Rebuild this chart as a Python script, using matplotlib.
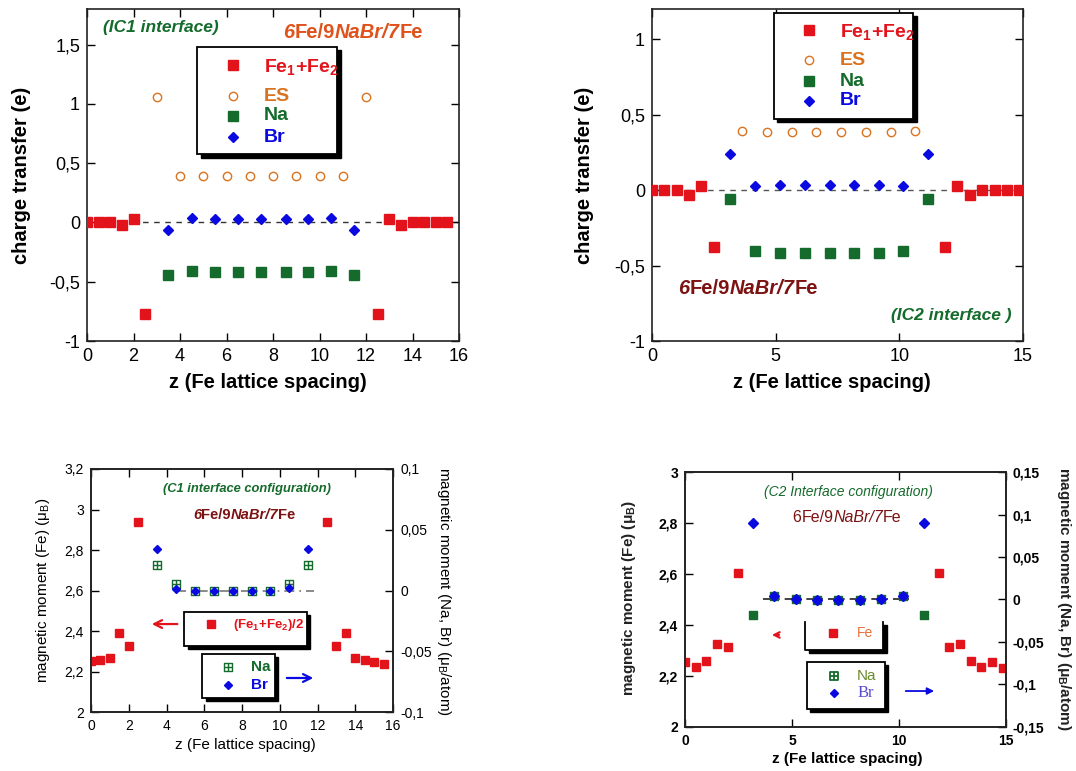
import matplotlib
matplotlib.use("Agg")
import matplotlib.pyplot as plt
from matplotlib.patches import Rectangle
from matplotlib.path import Path
from matplotlib.transforms import offset_copy
from matplotlib.ticker import MultipleLocator, FuncFormatter

plt.rcParams['font.family'] = ['Liberation Sans', 'DejaVu Sans']
plt.rcParams['mathtext.fontset'] = 'custom'
plt.rcParams['mathtext.rm'] = 'Liberation Sans'
plt.rcParams['mathtext.it'] = 'Liberation Sans:italic'
plt.rcParams['mathtext.bf'] = 'Liberation Sans:bold'

# --- charge transfer, IC1 interface ---
ic1_fe_z = [0, 0.5, 1, 1.5, 2, 2.5, 12.5, 13, 13.5, 14, 14.5, 15, 15.5]
ic1_fe_q = [0.0, 0.0, 0.0, -0.02, 0.03, -0.77, -0.77, 0.03, -0.02, 0.0, 0.0, 0.0, 0.0]
ic1_es_z = [3, 4, 5, 6, 7, 8, 9, 10, 11, 12]
ic1_es_q = [1.06, 0.39, 0.39, 0.39, 0.39, 0.39, 0.39, 0.39, 0.39, 1.06]
ic1_ion_z = [3.5, 4.5, 5.5, 6.5, 7.5, 8.55, 9.5, 10.5, 11.5]
ic1_na_q = [-0.44, -0.41, -0.42, -0.42, -0.42, -0.42, -0.42, -0.41, -0.44]
ic1_br_q = [-0.065, 0.035, 0.03, 0.03, 0.03, 0.03, 0.03, 0.035, -0.065]

# --- charge transfer, IC2 interface ---
ic2_fe_z = [0, 0.5, 1, 1.5, 2, 2.5, 11.85, 12.35, 12.85, 13.35, 13.85, 14.35, 14.85]
ic2_fe_q = [0.0, 0.0, 0.003, -0.035, 0.026, -0.377, -0.377, 0.026, -0.035, 0.003, 0.0, 0.0, 0.0]
ic2_es_z = [3.65, 4.65, 5.65, 6.65, 7.65, 8.65, 9.65, 10.65]
ic2_es_q = [0.394, 0.385, 0.385, 0.385, 0.385, 0.385, 0.385, 0.394]
ic2_ion_z = [3.17, 4.18, 5.17, 6.18, 7.18, 8.18, 9.18, 10.17, 11.17]
ic2_na_q = [-0.06, -0.405, -0.414, -0.414, -0.414, -0.414, -0.414, -0.405, -0.06]
ic2_br_q = [0.242, 0.024, 0.033, 0.033, 0.033, 0.033, 0.033, 0.024, 0.242]

# --- magnetic moments, C1 configuration ---
c1_fe_z = [0, 0.5, 1, 1.5, 2, 2.5, 12.5, 13, 13.5, 14, 14.5, 15, 15.5]
c1_fe_m = [2.25, 2.255, 2.266, 2.388, 2.324, 2.94, 2.94, 2.324, 2.388, 2.266, 2.255, 2.248, 2.237]
c1_ion_z = [3.5, 4.5, 5.5, 6.5, 7.5, 8.55, 9.5, 10.5, 11.5]
c1_na_m = [0.0214, 0.005, 0.0, 0.0, 0.0, 0.0, 0.0, 0.005, 0.0214]
c1_br_m = [0.0338, 0.0016, 0.0, 0.0, 0.0, 0.0, 0.0, 0.002, 0.0338]
c1_zero_span = [4.5, 11.8]

# --- magnetic moments, C2 configuration ---
c2_fe_z = [0, 0.5, 1, 1.5, 2, 2.5, 11.85, 12.35, 12.85, 13.35, 13.85, 14.35, 14.85]
c2_fe_m = [2.253, 2.236, 2.258, 2.324, 2.315, 2.605, 2.605, 2.315, 2.324, 2.258, 2.236, 2.253, 2.23]
c2_ion_z = [3.2, 4.17, 5.18, 6.18, 7.16, 8.17, 9.17, 10.17, 11.15]
c2_na_m = [-0.018, 0.004, 0.0, -0.001, -0.001, -0.001, 0.0, 0.004, -0.018]
c2_br_m = [0.09, 0.004, 0.0, -0.001, -0.001, -0.001, 0.0, 0.004, 0.09]
c2_zero_span = [3.66, 10.45]

RED = '#e3131b'
ORANGE = '#d9731f'
GREEN = '#146b2b'
BLUE = '#0a0ae0'
DARKRED = '#7c1212'
TITLE_ORANGE = '#e0521c'

boxplus = Path([(-1, -1), (1, -1), (1, 1), (-1, 1), (-1, -1), (0, -1), (0, 1), (-1, 0), (1, 0)],
               [Path.MOVETO, Path.LINETO, Path.LINETO, Path.LINETO, Path.CLOSEPOLY,
                Path.MOVETO, Path.LINETO, Path.MOVETO, Path.LINETO])

comma = FuncFormatter(lambda v, _: f"{v:g}".replace('.', ','))


def style_axes(ax, size, bold=False):
    ax.tick_params(direction='in', length=6, width=1, labelsize=size, pad=5)
    for s in ax.spines.values():
        s.set_linewidth(1.2)
        s.set_color('#222222')
    if bold:
        for lab in ax.get_xticklabels() + ax.get_yticklabels():
            lab.set_fontweight('bold')


def rich_text(ax, x, y, parts, size, color, weight='bold'):
    t = ax.text(x, y, parts[0][0], transform=ax.transAxes, fontsize=size, color=color,
                fontweight=weight, fontstyle=parts[0][1], ha='left', va='center', zorder=6)
    for s, style in parts[1:]:
        t = ax.annotate(s, xy=(1, 0), xycoords=t, ha='left', va='bottom', fontsize=size,
                        color=color, fontweight=weight, fontstyle=style, zorder=6)


def shadow_box(ax, x0, y0, x1, y1, top=True):
    fig = ax.figure
    sh = offset_copy(ax.transAxes, fig=fig, x=3.5, y=-3.5, units='dots')
    ax.add_patch(Rectangle((x0, y0), x1 - x0, y1 - y0, transform=sh, facecolor='black',
                           edgecolor='black', lw=1, zorder=4, clip_on=False))
    ax.add_patch(Rectangle((x0, y0), x1 - x0, y1 - y0, transform=ax.transAxes,
                           facecolor='white', edgecolor='black' if top else 'none',
                           lw=1.3, zorder=4.5, clip_on=False))
    if not top:
        ax.plot([x0, x0, x1, x1], [y1, y0, y0, y1], transform=ax.transAxes, color='black',
                lw=1.3, zorder=4.6, clip_on=False)


def key(ax, x, y, **kw):
    ax.plot([x], [y], transform=ax.transAxes, zorder=5, clip_on=False, ls='none', **kw)


fig = plt.figure(figsize=(10.76, 7.71), dpi=100)

# ---------- top left: IC1 charge transfer ----------
ax1 = fig.add_axes([0.0809, 0.5577, 0.3457, 0.4306])
ax1.axhline(0, color='#333333', ls=(0, (4, 4)), lw=1, zorder=1)
ax1.plot(ic1_fe_z, ic1_fe_q, 's', color=RED, ms=6.5, zorder=3)
ax1.plot(ic1_es_z, ic1_es_q, 'o', mfc='none', mec=ORANGE, ms=6, mew=1, zorder=3)
ax1.plot(ic1_ion_z, ic1_na_q, 's', color=GREEN, ms=6.5, zorder=3)
ax1.plot(ic1_ion_z, ic1_br_q, 'D', color=BLUE, ms=5.5, zorder=3)
ax1.set_xlim(0, 16)
ax1.set_ylim(-1, 1.8)
ax1.xaxis.set_major_locator(MultipleLocator(2))
ax1.yaxis.set_major_locator(MultipleLocator(0.5))
ax1.yaxis.set_major_formatter(comma)
ax1.tick_params(top=True, right=True)
style_axes(ax1, 13)
ax1.set_ylabel('charge transfer (e)', fontsize=14.5, fontweight='bold', va='center')
ax1.yaxis.set_label_coords(-0.176, 0.5)
ax1.set_xlabel('z (Fe lattice spacing)', fontsize=14.5, fontweight='bold')
ax1.xaxis.set_label_coords(0.485, -0.095)
ax1.text(0.043, 0.943, '(IC1 interface)', transform=ax1.transAxes, fontsize=12.5,
         fontweight='bold', fontstyle='italic', color=GREEN, va='center')
rich_text(ax1, 0.527, 0.928, [('6', 'italic'), ('Fe/9', 'normal'), ('NaBr/7', 'italic'),
                               ('Fe', 'normal')], 14.5, TITLE_ORANGE)
shadow_box(ax1, 0.296, 0.563, 0.672, 0.886)
key(ax1, 0.392, 0.831, marker='s', color=RED, ms=6.5)
key(ax1, 0.392, 0.738, marker='o', mfc='none', mec=ORANGE, ms=6, mew=1)
key(ax1, 0.392, 0.678, marker='s', color=GREEN, ms=6.5)
key(ax1, 0.392, 0.614, marker='D', color=BLUE, ms=5.5)
for yy, lab, c in [(0.825, r'Fe$_\mathbf{1}$+Fe$_\mathbf{2}$', RED), (0.738, 'ES', ORANGE),
                   (0.678, 'Na', GREEN), (0.614, 'Br', BLUE)]:
    ax1.text(0.476, yy, lab, transform=ax1.transAxes, fontsize=14, fontweight='bold',
             color=c, va='center', zorder=6)

# ---------- top right: IC2 charge transfer ----------
ax2 = fig.add_axes([0.6059, 0.5577, 0.3448, 0.4306])
ax2.axhline(0, color='#555555', ls=(0, (4, 4)), lw=1, zorder=1)
ax2.plot(ic2_fe_z, ic2_fe_q, 's', color=RED, ms=6.5, zorder=3)
ax2.plot(ic2_es_z, ic2_es_q, 'o', mfc='none', mec=ORANGE, ms=6, mew=1, zorder=3)
ax2.plot(ic2_ion_z, ic2_na_q, 's', color=GREEN, ms=6.5, zorder=3)
ax2.plot(ic2_ion_z, ic2_br_q, 'D', color=BLUE, ms=5.5, zorder=3)
ax2.set_xlim(0, 15)
ax2.set_ylim(-1, 1.2)
ax2.xaxis.set_major_locator(MultipleLocator(5))
ax2.yaxis.set_major_locator(MultipleLocator(0.5))
ax2.yaxis.set_major_formatter(comma)
ax2.tick_params(top=True, right=True)
style_axes(ax2, 13)
ax2.set_ylabel('charge transfer (e)', fontsize=14.5, fontweight='bold', va='center')
ax2.yaxis.set_label_coords(-0.182, 0.5)
ax2.set_xlabel('z (Fe lattice spacing)', fontsize=14.5, fontweight='bold')
ax2.xaxis.set_label_coords(0.484, -0.095)
rich_text(ax2, 0.070, 0.157, [('6', 'italic'), ('Fe/9', 'normal'), ('NaBr/7', 'italic'),
                               ('Fe', 'normal')], 14.5, DARKRED)
ax2.text(0.970, 0.078, '(IC2 interface )', transform=ax2.transAxes, fontsize=12.5,
         fontweight='bold', fontstyle='italic', color=GREEN, va='center', ha='right')
shadow_box(ax2, 0.328, 0.669, 0.704, 0.989)
key(ax2, 0.423, 0.937, marker='s', color=RED, ms=6.5)
key(ax2, 0.423, 0.846, marker='o', mfc='none', mec=ORANGE, ms=6, mew=1)
key(ax2, 0.423, 0.783, marker='s', color=GREEN, ms=6.5)
key(ax2, 0.423, 0.723, marker='D', color=BLUE, ms=5.5)
for yy, lab, c in [(0.931, r'Fe$_\mathbf{1}$+Fe$_\mathbf{2}$', RED), (0.846, 'ES', ORANGE),
                   (0.783, 'Na', GREEN), (0.723, 'Br', BLUE)]:
    ax2.text(0.507, yy, lab, transform=ax2.transAxes, fontsize=14, fontweight='bold',
             color=c, va='center', zorder=6)

# ---------- bottom left: C1 magnetic moments ----------
ax3 = fig.add_axes([0.0846, 0.0765, 0.2807, 0.3152])
ax3r = ax3.twinx()
ax3.plot(c1_fe_z, c1_fe_m, 's', color=RED, ms=5.5, zorder=3)
ax3r.plot(c1_zero_span, [0, 0], color='#777777', lw=1.2, ls=(0, (6, 3, 1, 3)), zorder=1)
ax3r.plot(c1_ion_z, c1_na_m, marker=boxplus, ls='none', mfc='white', mec=GREEN, ms=6, mew=1, zorder=3)
ax3r.plot(c1_ion_z, c1_br_m, 'D', color=BLUE, ms=4.5, zorder=4)
ax3.set_xlim(0, 16)
ax3.set_ylim(2, 3.2)
ax3r.set_ylim(-0.1, 0.1)
ax3.xaxis.set_major_locator(MultipleLocator(2))
ax3.yaxis.set_major_locator(MultipleLocator(0.2))
ax3r.yaxis.set_major_locator(MultipleLocator(0.05))
ax3.yaxis.set_major_formatter(comma)
ax3r.yaxis.set_major_formatter(comma)
ax3.tick_params(top=True)
style_axes(ax3, 10)
style_axes(ax3r, 10)
ax3.set_ylabel(r'magnetic moment (Fe) (μ$_\mathrm{B}$)', fontsize=11, va='center')
ax3.yaxis.set_label_coords(-0.159, 0.502)
ax3r.set_ylabel(r'magnetic moment (Na, Br) (μ$_\mathrm{B}$/atom)', fontsize=11,
                rotation=-90, va='center')
ax3r.yaxis.set_label_coords(1.168, 0.498)
ax3.set_xlabel('z (Fe lattice spacing)', fontsize=11)
ax3.xaxis.set_label_coords(0.51, -0.107)
ax3.text(0.517, 0.918, '(C1 interface configuration)', transform=ax3.transAxes, fontsize=9.3,
         fontweight='bold', fontstyle='italic', color=GREEN, va='center', ha='center')
rich_text(ax3, 0.338, 0.811, [('6', 'italic'), ('Fe/9', 'normal'), ('NaBr/7', 'italic'),
                               ('Fe', 'normal')], 10.6, DARKRED)
shadow_box(ax3r, 0.308, 0.272, 0.715, 0.412)
key(ax3r, 0.397, 0.362, marker='s', color=RED, ms=5.5)
ax3r.text(0.470, 0.357, r'(Fe$_\mathbf{1}$+Fe$_\mathbf{2}$)/2', transform=ax3r.transAxes,
          fontsize=9.5, fontweight='bold', color=RED, va='center', zorder=6)
shadow_box(ax3r, 0.368, 0.058, 0.609, 0.239)
key(ax3r, 0.454, 0.185, marker=boxplus, mfc='white', mec=GREEN, ms=6, mew=1)
key(ax3r, 0.454, 0.111, marker='D', color=BLUE, ms=4.5)
ax3r.text(0.530, 0.185, 'Na', transform=ax3r.transAxes, fontsize=11, fontweight='bold',
          color=GREEN, va='center', zorder=6)
ax3r.text(0.530, 0.111, 'Br', transform=ax3r.transAxes, fontsize=11, fontweight='bold',
          color=BLUE, va='center', zorder=6)
ax3r.annotate('', xy=(0.192, 0.362), xytext=(0.295, 0.362), xycoords='axes fraction',
              arrowprops=dict(arrowstyle='->', color=RED, lw=1.6, mutation_scale=14))
ax3r.annotate('', xy=(0.745, 0.140), xytext=(0.639, 0.140), xycoords='axes fraction',
              arrowprops=dict(arrowstyle='->', color=BLUE, lw=1.6, mutation_scale=14))

# ---------- bottom right: C2 magnetic moments ----------
ax4 = fig.add_axes([0.6366, 0.0571, 0.2983, 0.3307])
ax4r = ax4.twinx()
ax4.plot(c2_fe_z, c2_fe_m, 's', color=RED, ms=6, zorder=3)
ax4r.plot(c2_zero_span, [0, 0], color='#222222', lw=1.2, ls=(0, (6, 3, 1, 3)), zorder=1)
ax4r.plot(c2_ion_z, c2_na_m, marker=boxplus, ls='none', mfc=GREEN, mec=GREEN, ms=6, mew=1, zorder=3)
ax4r.plot(c2_ion_z, c2_br_m, 'D', color=BLUE, ms=5, zorder=4)
ax4.set_xlim(0, 15)
ax4.set_ylim(2, 3)
ax4r.set_ylim(-0.15, 0.15)
ax4.xaxis.set_major_locator(MultipleLocator(5))
ax4.yaxis.set_major_locator(MultipleLocator(0.2))
ax4r.yaxis.set_major_locator(MultipleLocator(0.05))
ax4.yaxis.set_major_formatter(comma)
ax4r.yaxis.set_major_formatter(comma)
ax4.tick_params(top=True)
style_axes(ax4, 10, bold=True)
style_axes(ax4r, 10, bold=True)
ax4.set_ylabel(r'magnetic moment (Fe) (μ$_\mathbf{B}$)', fontsize=11, fontweight='bold',
               va='center', color='#222222')
ax4.yaxis.set_label_coords(-0.174, 0.506)
ax4r.set_ylabel(r'magnetic moment (Na, Br) (μ$_\mathbf{B}$/atom)', fontsize=11,
                fontweight='bold', rotation=-90, va='center', color='#222222')
ax4r.yaxis.set_label_coords(1.18, 0.502)
ax4.set_xlabel('z (Fe lattice spacing)', fontsize=11, fontweight='bold')
ax4.xaxis.set_label_coords(0.505, -0.098)
ax4.text(0.508, 0.922, '(C2 Interface configuration)', transform=ax4.transAxes, fontsize=10,
         fontstyle='italic', color=GREEN, va='center', ha='center')
rich_text(ax4, 0.335, 0.820, [('6', 'normal'), ('Fe/9', 'normal'), ('NaBr/7', 'italic'),
                               ('Fe', 'normal')], 11.5, DARKRED, weight='normal')
shadow_box(ax4r, 0.374, 0.302, 0.617, 0.412, top=False)
key(ax4r, 0.461, 0.369, marker='s', color=RED, ms=5.5)
ax4r.text(0.536, 0.369, 'Fe', transform=ax4r.transAxes, fontsize=10, color='#e8703a',
          va='center', zorder=6)
shadow_box(ax4r, 0.380, 0.071, 0.623, 0.255)
key(ax4r, 0.464, 0.200, marker=boxplus, mfc='white', mec=GREEN, ms=6, mew=1.3)
key(ax4r, 0.464, 0.133, marker='D', color=BLUE, ms=4.5)
ax4r.text(0.536, 0.200, 'Na', transform=ax4r.transAxes, fontsize=11, color='#6b8a2a',
          va='center', zorder=6)
ax4r.text(0.536, 0.133, 'Br', transform=ax4r.transAxes, fontsize=12, color='#5a4ad0',
          family='Liberation Serif', va='center', zorder=6)
ax4r.annotate('', xy=(0.262, 0.361), xytext=(0.302, 0.361), xycoords='axes fraction',
              arrowprops=dict(arrowstyle='->', color=RED, lw=1.5, mutation_scale=10))
ax4r.annotate('', xy=(0.785, 0.141), xytext=(0.679, 0.141), xycoords='axes fraction',
              arrowprops=dict(arrowstyle='-|>', color=BLUE, lw=1.3, mutation_scale=10))

fig.savefig('out.png', dpi=100)
